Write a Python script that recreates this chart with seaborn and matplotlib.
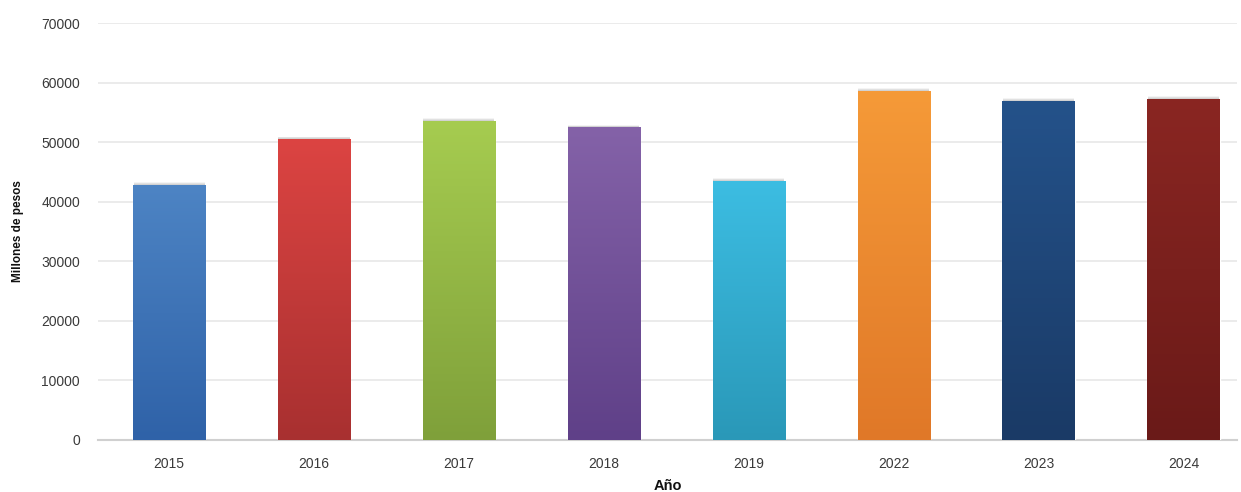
import numpy as np
import pandas as pd
import seaborn as sns
import matplotlib.pyplot as plt
from matplotlib.colors import LinearSegmentedColormap

# data
anios = ['2015', '2016', '2017', '2018', '2019', '2022', '2023', '2024']
millones = [42800, 50500, 53600, 52500, 43500, 58600, 57000, 57300]
color_arriba = ['#4d84c4', '#dc4442', '#a6cc50', '#8462a8', '#3cbde2', '#f59a38', '#24528a', '#8a2622']
color_abajo = ['#2f62a8', '#a83030', '#7fa03a', '#5f4088', '#2a98b8', '#e07828', '#1a3a66', '#6a1a18']
y_ticks = [0, 10000, 20000, 30000, 40000, 50000, 60000, 70000]

df = pd.DataFrame({'Año': anios, 'Millones de pesos': millones})

sns.set_style('white')
plt.rcParams['font.family'] = ['Liberation Sans', 'DejaVu Sans']

fig = plt.figure(figsize=(12.41, 4.92), dpi=100)
ax = fig.add_axes([0.079, 0.106, 0.918, 0.847])

sns.barplot(data=df, x='Año', y='Millones de pesos', hue='Año',
            palette=color_arriba, width=0.5, legend=False, ax=ax, zorder=3)

# vertical gradient on each bar
ymax = 70000
for patch, c1, c2 in zip(ax.patches, color_arriba, color_abajo):
    x0, y0 = patch.get_x(), patch.get_y()
    w, h = patch.get_width(), patch.get_height()
    cmap = LinearSegmentedColormap.from_list('g', [c2, c1])
    grad = np.linspace(0, 1, 256).reshape(-1, 1)
    im = ax.imshow(grad, cmap=cmap, aspect='auto', origin='lower',
                   extent=[x0, x0 + w, y0, y0 + h], zorder=4)
    im.set_clip_path(patch)
    # soft shadow above the bar
    for k, a in enumerate([0.35, 0.2, 0.1]):
        ax.bar(x0 + w / 2, 150 * (k + 1), width=w * 0.98, bottom=y0 + h,
               color='#9a9a9a', alpha=a, linewidth=0, zorder=2)

ax.set_xlim(-0.49, 7.37)
ax.set_ylim(0, ymax)
ax.set_yticks(y_ticks)
ax.yaxis.grid(True, color='#e8e8e8', linewidth=1.2, zorder=0)
ax.set_axisbelow(True)
for s in ['top', 'right', 'left']:
    ax.spines[s].set_visible(False)
ax.spines['bottom'].set_color('#d0d0d0')
ax.spines['bottom'].set_linewidth(1.5)
ax.tick_params(axis='both', length=0, labelsize=10, labelcolor='#3a3a3a')
ax.tick_params(axis='x', pad=12)
ax.tick_params(axis='y', pad=13)

ax.set_xlabel('Año', fontsize=10.5, fontweight='bold', color='#111111', labelpad=6)
ax.set_ylabel('Millones de pesos', fontsize=8.5, fontweight='bold', color='#111111', labelpad=12)

fig.savefig('out.png', dpi=100)
